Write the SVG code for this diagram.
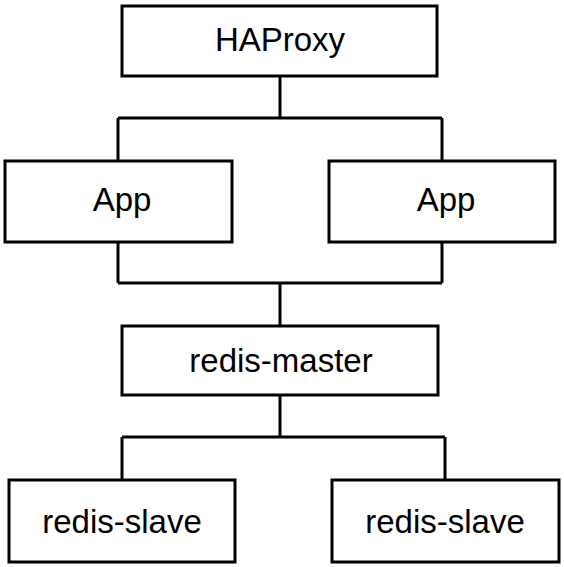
<svg xmlns="http://www.w3.org/2000/svg" width="564" height="567" viewBox="0 0 564 567">
<style>
.box{fill:#fff;stroke:#000;stroke-width:3}
.lbl{font-family:"Liberation Sans",Arial,sans-serif;font-size:33px;fill:#000;text-anchor:middle}
.con{fill:none;stroke:#000;stroke-width:3}
</style>
<rect width="564" height="567" fill="#fff"/>
<g id="connectors">
<path class="con" d="M280,76 V118 M118,118 H442 M118,118 V161 M442,118 V161"/>
<path class="con" d="M118,242 V283 M442,242 V283 M118,283 H442 M280,283 V326"/>
<path class="con" d="M280,395 V437 M122,437 H445 M122,437 V480 M445,437 V480"/>
</g>
<g id="haproxy"><rect class="box" x="122" y="6" width="315" height="70"/><text class="lbl" x="280" y="51">HAProxy</text></g>
<g id="app1"><rect class="box" x="5" y="161" width="227" height="81"/><text class="lbl" x="122" y="211">App</text></g>
<g id="app2"><rect class="box" x="329" y="161" width="226" height="81"/><text class="lbl" x="446" y="211">App</text></g>
<g id="redis-master"><rect class="box" x="122" y="326" width="316" height="69"/><text class="lbl" x="281" y="372">redis-master</text></g>
<g id="redis-slave1"><rect class="box" x="9" y="480" width="226" height="82"/><text class="lbl" x="122" y="533">redis-slave</text></g>
<g id="redis-slave2"><rect class="box" x="332" y="480" width="227" height="82"/><text class="lbl" x="445" y="533">redis-slave</text></g>
</svg>
